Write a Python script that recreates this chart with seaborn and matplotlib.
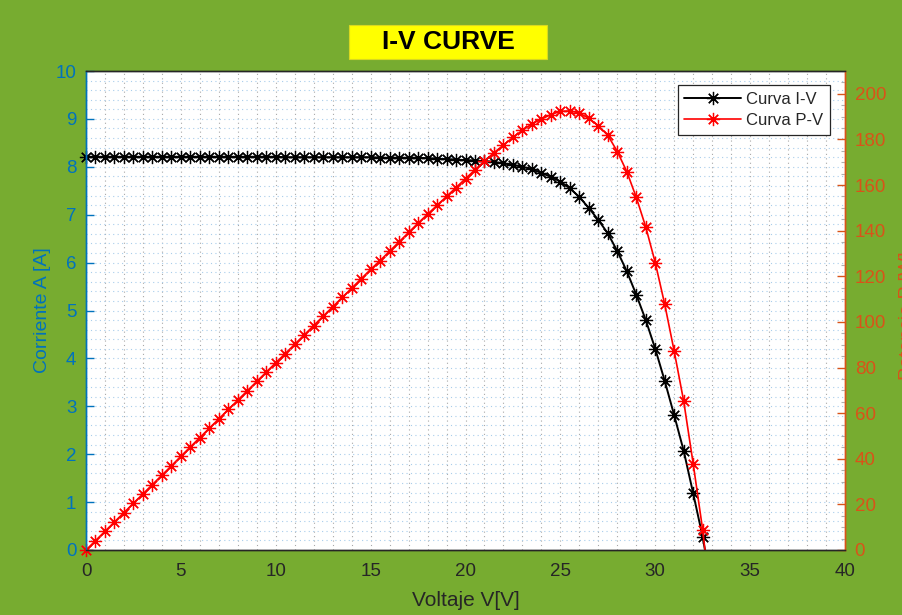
import matplotlib
matplotlib.use("Agg")
import matplotlib.pyplot as plt
import matplotlib.patches as mpatches
from matplotlib.ticker import MultipleLocator
import seaborn as sns
import pandas as pd

# Panel measurements: terminal voltage [V], current [A], power [W]
voltage = [0.0, 0.5, 1.0, 1.5, 2.0, 2.5, 3.0, 3.5, 4.0, 4.5, 5.0, 5.5, 6.0, 6.5,
           7.0, 7.5, 8.0, 8.5, 9.0, 9.5, 10.0, 10.5, 11.0, 11.5, 12.0, 12.5,
           13.0, 13.5, 14.0, 14.5, 15.0, 15.5, 16.0, 16.5, 17.0, 17.5, 18.0,
           18.5, 19.0, 19.5, 20.0, 20.5, 21.0, 21.5, 22.0, 22.5, 23.0, 23.5,
           24.0, 24.5, 25.0, 25.5, 26.0, 26.5, 27.0, 27.5, 28.0, 28.5, 29.0,
           29.5, 30.0, 30.5, 31.0, 31.5, 32.0, 32.5]
current = [8.21, 8.21, 8.21, 8.21, 8.21, 8.21, 8.21, 8.21, 8.21, 8.21, 8.21,
           8.21, 8.21, 8.21, 8.21, 8.21, 8.21, 8.21, 8.21, 8.21, 8.21, 8.20,
           8.20, 8.20, 8.20, 8.20, 8.20, 8.20, 8.20, 8.20, 8.20, 8.19, 8.19,
           8.19, 8.19, 8.19, 8.18, 8.17, 8.16, 8.15, 8.14, 8.13, 8.12, 8.10,
           8.07, 8.04, 8.00, 7.95, 7.87, 7.79, 7.69, 7.55, 7.37, 7.14, 6.89,
           6.61, 6.24, 5.82, 5.33, 4.80, 4.20, 3.53, 2.81, 2.07, 1.18, 0.27]
power = [0.0, 4.1, 8.2, 12.3, 16.4, 20.5, 24.6, 28.7, 32.8, 36.9, 41.1, 45.2,
         49.3, 53.4, 57.5, 61.6, 65.7, 69.8, 73.9, 78.0, 82.1, 86.1, 90.2,
         94.3, 98.4, 102.5, 106.6, 110.7, 114.8, 118.9, 123.0, 126.9, 131.0,
         135.1, 139.2, 143.3, 147.2, 151.1, 155.0, 158.9, 162.8, 166.7, 170.5,
         174.2, 177.5, 180.9, 184.0, 186.8, 188.9, 190.9, 192.3, 192.5, 191.6,
         189.2, 186.0, 181.8, 174.7, 165.9, 154.6, 141.6, 126.0, 107.7, 87.1,
         65.2, 37.8, 8.8]
# open-circuit point closes both curves
v_oc, i_oc, p_oc = 32.62, 0.0, 0.0

x_ticks = [0, 5, 10, 15, 20, 25, 30, 35, 40]
i_ticks = [0, 1, 2, 3, 4, 5, 6, 7, 8, 9, 10]
p_ticks = [0, 20, 40, 60, 80, 100, 120, 140, 160, 180, 200]

iv = pd.DataFrame({"V": voltage + [v_oc], "I": current + [i_oc],
                   "P": power + [p_oc]})

sns.set_theme(style="white")
plt.rcParams["font.family"] = ["Liberation Sans", "DejaVu Sans"]

BG = "#77AC30"
BLUE = "#0072BD"
ORANGE = "#D95319"
DARK = "#262626"

fig = plt.figure(figsize=(9.02, 6.15), dpi=100, facecolor=BG)
ax = fig.add_axes([86 / 902, 65 / 615, 759 / 902, 479 / 615])
ax.set_facecolor("white")
ax2 = ax.twinx()
ax2.patch.set_visible(False)

marks = list(range(len(voltage)))
star = (8, 2, 0)

sns.lineplot(data=iv, x="V", y="I", ax=ax, color="black", lw=1.4,
             marker=star, markersize=9.5, markeredgewidth=0.9,
             markeredgecolor="black", markevery=marks, estimator=None,
             sort=False, label="Curva I-V", legend=False, clip_on=False)
sns.lineplot(data=iv, x="V", y="P", ax=ax2, color="#FF0000", lw=1.2,
             marker=star, markersize=9.5, markeredgewidth=0.9,
             markeredgecolor="#FF0000", markevery=marks, estimator=None,
             sort=False, label="Curva P-V", legend=False, clip_on=False)

ax.set_xlim(0, 40)
ax.set_ylim(0, 10)
ax2.set_ylim(0, 210)
ax.set_xticks(x_ticks)
ax.set_yticks(i_ticks)
ax2.set_yticks(p_ticks)
ax.set_xticklabels([str(t) for t in x_ticks])
ax.set_yticklabels([str(t) for t in i_ticks])
ax2.set_yticklabels([str(t) for t in p_ticks])

# dotted minor grid
ax.xaxis.set_minor_locator(MultipleLocator(1))
ax.yaxis.set_minor_locator(MultipleLocator(0.2))
ax.grid(True, which="both", axis="x", color="#A8A8A8",
        linestyle=(0, (1, 3)), linewidth=0.8)
ax.grid(True, which="both", axis="y", color="#A9CDEB",
        linestyle=(0, (1, 3)), linewidth=0.8)
ax.set_axisbelow(True)

ax.tick_params(axis="x", which="major", direction="in", length=6, width=1,
               colors=DARK, labelsize=13.5, pad=9, top=False)
ax.tick_params(axis="y", which="major", direction="in", length=6, width=1,
               colors=BLUE, labelsize=13.5, pad=7)
ax.tick_params(which="minor", length=0)
ax2.tick_params(axis="y", which="major", direction="in", length=6, width=1,
                colors=ORANGE, labelsize=13.5, pad=7)
ax2.yaxis.set_minor_locator(MultipleLocator(5))
ax2.tick_params(axis="y", which="minor", direction="in", length=3,
                width=0.8, colors="#B0B0B0")

for a in (ax, ax2):
    a.spines["left"].set_color(BLUE)
    a.spines["right"].set_color(ORANGE)
    a.spines["bottom"].set_color(DARK)
    a.spines["top"].set_color(DARK)
    for s in a.spines.values():
        s.set_linewidth(1.0)
        s.set_visible(True)

ax.set_xlabel("Voltaje V[V]", fontsize=15, color=DARK, labelpad=8)
ax.set_ylabel("Corriente A [A]", fontsize=14, color=BLUE, labelpad=3)
ax2.set_ylabel("Potencia P [W]", fontsize=14, color=ORANGE)
ax2.yaxis.set_label_coords(1.0715, 0.49)

h1, l1 = ax.get_legend_handles_labels()
h2, l2 = ax2.get_legend_handles_labels()
leg = ax2.legend(h1 + h2, l1 + l2, loc="upper right",
                 bbox_to_anchor=(0.980, 0.971), fontsize=12,
                 frameon=True, fancybox=False, framealpha=1,
                 edgecolor=DARK, handlelength=3.4, borderpad=0.4,
                 labelspacing=0.4, handletextpad=0.3, borderaxespad=0)
leg.get_frame().set_linewidth(0.9)
for t in leg.get_texts():
    t.set_color(DARK)

# title banner
fig.patches.append(mpatches.Rectangle((349 / 902, 1 - 59 / 615),
                                      198 / 902, 34 / 615,
                                      transform=fig.transFigure,
                                      facecolor="#FFFF00",
                                      edgecolor="#D8D820", linewidth=0.8))
fig.text(448 / 902, 1 - 42 / 615, "I-V CURVE", ha="center", va="center",
         fontsize=19, fontweight="bold", color="black")

fig.savefig("out.png", dpi=100, facecolor=BG)
